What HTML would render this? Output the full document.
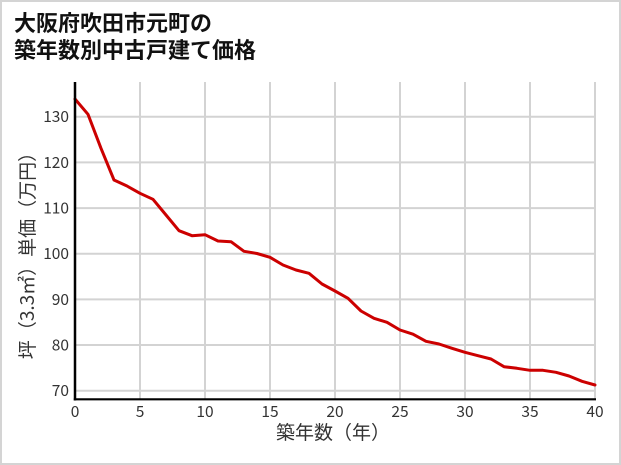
<!DOCTYPE html>
<html><head><meta charset="utf-8">
<style>
html,body{margin:0;padding:0;background:#fff;}
.wrap{width:621px;height:465px;position:relative;overflow:hidden;}
svg{display:block;}
text{font-family:"Noto Sans CJK JP","Liberation Sans",sans-serif;}
</style></head>
<body><div class="wrap">
<svg width="621" height="465" viewBox="0 0 621 465" xmlns="http://www.w3.org/2000/svg">
<rect x="1" y="1" width="619" height="463" fill="#fff" stroke="#d4d4d4" stroke-width="2"/>
<text x="14" y="31" font-size="22" font-weight="bold" fill="#111">大阪府吹田市元町の</text>
<text x="14" y="58" font-size="22" font-weight="bold" fill="#111">築年数別中古戸建て価格</text>
<g stroke="#d3d3d3" stroke-width="2">
<line x1="75" y1="390.7" x2="595" y2="390.7"/>
<line x1="75" y1="345" x2="595" y2="345"/>
<line x1="75" y1="299.4" x2="595" y2="299.4"/>
<line x1="75" y1="253.7" x2="595" y2="253.7"/>
<line x1="75" y1="208.1" x2="595" y2="208.1"/>
<line x1="75" y1="162.4" x2="595" y2="162.4"/>
<line x1="75" y1="116.7" x2="595" y2="116.7"/>
<line x1="140" y1="82" x2="140" y2="399"/>
<line x1="205" y1="82" x2="205" y2="399"/>
<line x1="270" y1="82" x2="270" y2="399"/>
<line x1="335" y1="82" x2="335" y2="399"/>
<line x1="400" y1="82" x2="400" y2="399"/>
<line x1="465" y1="82" x2="465" y2="399"/>
<line x1="530" y1="82" x2="530" y2="399"/>
<line x1="595" y1="82" x2="595" y2="399"/>
</g>
<polyline fill="none" stroke="#cc0000" stroke-width="3" stroke-linejoin="round" stroke-linecap="round" points="75,99 88,114.3 101,148.3 114,180 127,186 140,193.3 153,199.3 166,215 179,230.7 192,235.7 205,234.7 218,241 231,241.7 244,251.3 257,253.5 270,257.3 283,265 296,270 309,273.3 322,284 335,291 348,298.3 361,311 374,318.3 387,322.3 400,330 413,334.2 426,341.3 439,344 452,348.3 465,352.3 478,355.7 491,359 504,366.7 517,368.3 530,370.3 543,370.3 556,372.3 569,376 582,381.3 595,385"/>
<line x1="75" y1="82" x2="75" y2="400.5" stroke="#000" stroke-width="2.5"/>
<line x1="73.8" y1="399.3" x2="596" y2="399.3" stroke="#000" stroke-width="2.2"/>
<g font-size="15.5" fill="#333" text-anchor="end">
<text x="69" y="396.2">70</text>
<text x="69" y="350.5">80</text>
<text x="69" y="304.9">90</text>
<text x="69" y="259.2">100</text>
<text x="69" y="213.6">110</text>
<text x="69" y="167.9">120</text>
<text x="69" y="122.2">130</text>
</g>
<g font-size="15.5" fill="#333" text-anchor="middle">
<text x="75" y="417">0</text>
<text x="140" y="417">5</text>
<text x="205" y="417">10</text>
<text x="270" y="417">15</text>
<text x="335" y="417">20</text>
<text x="400" y="417">25</text>
<text x="465" y="417">30</text>
<text x="530" y="417">35</text>
<text x="595" y="417">40</text>
</g>
<text x="333" y="439" font-size="19" fill="#333" text-anchor="middle">築年数（年）</text>
<text transform="translate(34,251) rotate(-90)" x="0" y="0" font-size="19" fill="#333" text-anchor="middle">坪（3.3㎡）単価（万円）</text>
</svg>
</div></body></html>
